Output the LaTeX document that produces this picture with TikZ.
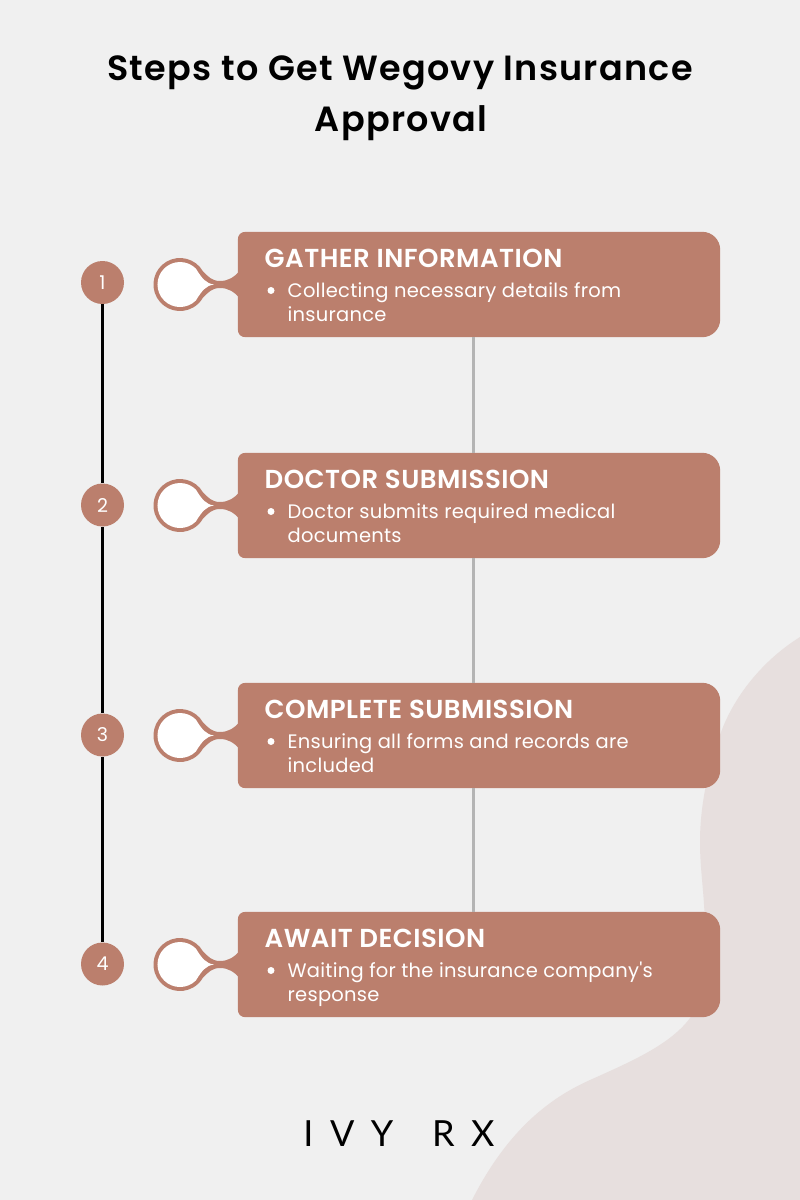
\documentclass[tikz,border=0pt]{standalone}
\usepackage{fontspec}
\setmainfont{Poppins}
\newfontfamily\ttlfont[LetterSpace=3.6]{Poppins SemiBold}
\newfontfamily\headfont[LetterSpace=1.9]{Poppins SemiBold}
\newfontfamily\bodyfont[LetterSpace=1.3]{Poppins}
\newfontfamily\logofont[LetterSpace=46,WordSpace=1.5]{Lato}
\definecolor{bgc}{HTML}{F0F0F0}
\definecolor{brown}{HTML}{BB7F6D}
\definecolor{blobc}{HTML}{E7DFDE}
\definecolor{linegray}{HTML}{B4B4B4}
\tikzset{
  x=1pt,y=-1pt,
  numdot/.style={circle,fill=brown,text=white,minimum size=43pt,inner sep=0pt,font=\bodyfont\fontsize{19}{19}\selectfont},
  boxanchor/.style={rectangle,minimum width=482pt,minimum height=105pt,inner sep=0pt},
  headtxt/.style={anchor=base west,inner sep=0pt,text=white,font=\headfont\fontsize{26}{26}\selectfont},
  bodytxt/.style={anchor=base west,inner sep=0pt,text=white,font=\bodyfont\fontsize{19.5}{19.5}\selectfont},
  titletxt/.style={anchor=base,inner sep=0pt,text=black,font=\ttlfont\fontsize{35}{35}\selectfont},
  blackline/.style={draw=black,line width=3pt},
  grayline/.style={draw=linegray,line width=3pt}
}
\newcommand{\stepblock}[3]{% id, circle y, box centre y
  \node[boxanchor] (box#1) at (479,#3) {};
  \fill[brown] ([shift={(8pt,0pt)}]box#1.north west) -- ([shift={(-18pt,0pt)}]box#1.north east)
     .. controls ([shift={(-8pt,0pt)}]box#1.north east) and ([shift={(0pt,-8pt)}]box#1.north east) .. ([shift={(0pt,-18pt)}]box#1.north east)
     -- ([shift={(0pt,18pt)}]box#1.south east)
     .. controls ([shift={(0pt,8pt)}]box#1.south east) and ([shift={(-8pt,0pt)}]box#1.south east) .. ([shift={(-18pt,0pt)}]box#1.south east)
     -- ([shift={(8pt,0pt)}]box#1.south west)
     .. controls ([shift={(3pt,0pt)}]box#1.south west) and ([shift={(0pt,3pt)}]box#1.south west) .. ([shift={(0pt,8pt)}]box#1.south west)
     -- ([shift={(0pt,-8pt)}]box#1.north west)
     .. controls ([shift={(0pt,-3pt)}]box#1.north west) and ([shift={(3pt,0pt)}]box#1.north west) .. cycle;
  \begin{scope}[shift={(180,#3)}]
    \fill[brown] (60,-14) .. controls (54,-7) and (48,-3.5) .. (40,-3.5)
      .. controls (32,-3.5) and (28,-8) .. (22.9,-13.25)
      arc[start angle=-30,end angle=-330,radius=26.5]
      .. controls (28,8) and (32,3.5) .. (40,3.5)
      .. controls (48,3.5) and (54,7) .. (60,14) -- cycle;
    \fill[white] (34,0) .. controls (26,-1) and (22,-6) .. (15.9,-15.9)
      arc[start angle=-45,end angle=-315,radius=22.5]
      .. controls (22,6) and (26,1) .. cycle;
  \end{scope}
  \node[numdot] (num#1) at (102.5,#2) {#1};
}
\begin{document}
\begin{tikzpicture}
\useasboundingbox (0,0) rectangle (800,1200);
\fill[bgc] (0,0) rectangle (800,1200);
\fill[blobc] (800,637) .. controls (760,662) and (732,700) .. (720,735)
  .. controls (706,775) and (700,810) .. (700,842)
  .. controls (700,870) and (704,890) .. (705,925)
  .. controls (706,965) and (702,1003) .. (690,1018)
  .. controls (670,1045) and (630,1062) .. (590,1080)
  .. controls (545,1100) and (505,1135) .. (472,1200)
  -- (800,1200) -- cycle;
\stepblock{1}{282.5}{284.5}
\stepblock{2}{505}{505.5}
\stepblock{3}{735}{735.5}
\stepblock{4}{964}{964.5}
\draw[grayline] (box1.south -| 473,0) -- (box2.north -| 473,0);
\draw[grayline] (box2.south -| 473,0) -- (box3.north -| 473,0);
\draw[grayline] (box3.south -| 473,0) -- (box4.north -| 473,0);
\draw[blackline] (num1) -- (num2);
\draw[blackline] (num2) -- (num3);
\draw[blackline] (num3) -- (num4);
\node[titletxt] (title1) at (400,80) {Steps to Get Wegovy Insurance};
\node[titletxt] (title2) at (401,131) {Approval};
\foreach \i/\y/\h/\a/\b in {1/232/GATHER INFORMATION/Collecting necessary details from/insurance,
  2/453/DOCTOR SUBMISSION/Doctor submits required medical/documents,
  3/683/COMPLETE SUBMISSION/Ensuring all forms and records are/included,
  4/912/AWAIT DECISION/Waiting for the insurance company's/response}{
  \node[headtxt] (h\i) at (264.5,\y+35) {\h};
  \fill[white] (271,\y+58.5) circle[radius=3.5];
  \node[bodytxt] (a\i) at (287.5,\y+65.5) {\a};
  \node[bodytxt] (b\i) at (287.5,\y+89.5) {\b};
}
\node[anchor=base,inner sep=0pt,text=black,font=\logofont\fontsize{36}{36}\selectfont] (logo) at (399,1146) {IVY RX};
\end{tikzpicture}
\end{document}
